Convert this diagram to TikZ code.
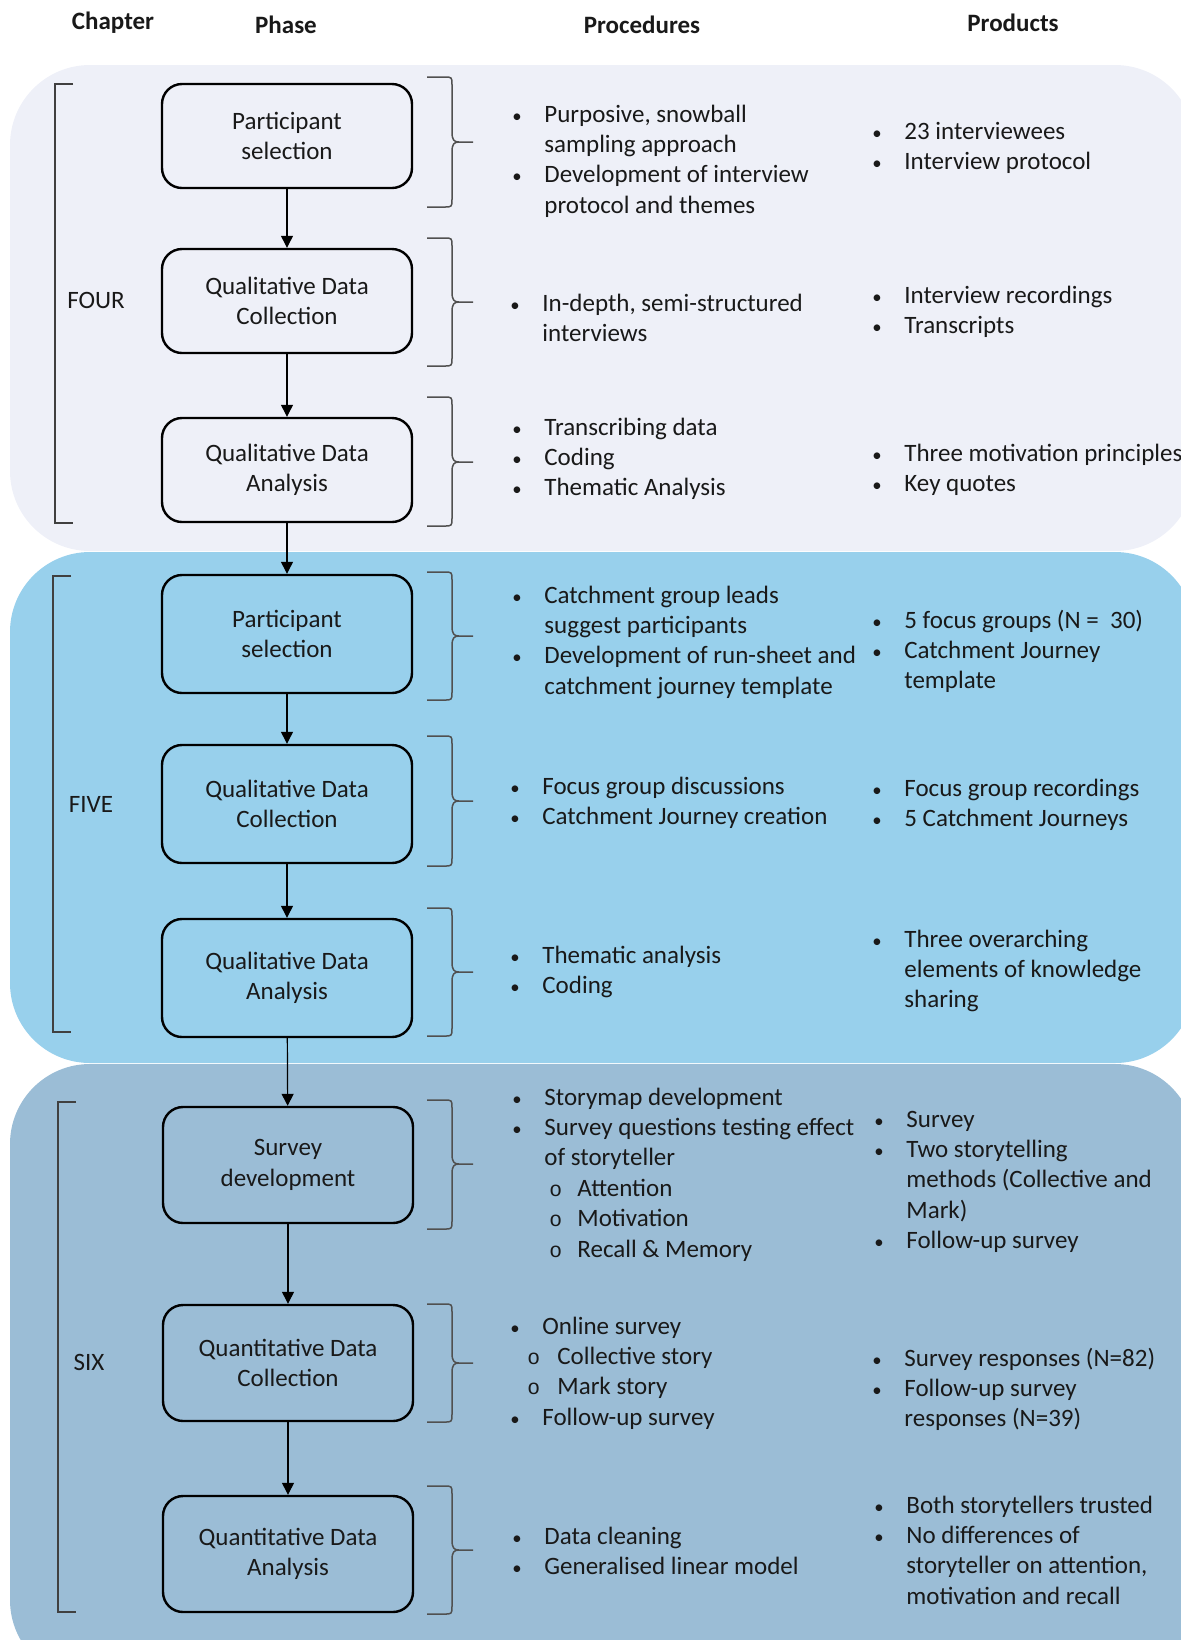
\documentclass[tikz,border=0pt]{standalone}
\usepackage{fontspec}
\setmainfont{Carlito}
\newfontfamily\monofam{Liberation Mono}
\usetikzlibrary{arrows.meta}

\definecolor{panelA}{RGB}{238,240,248}
\definecolor{panelB}{RGB}{152,208,236}
\definecolor{panelC}{RGB}{155,189,214}
\definecolor{bracegray}{RGB}{80,80,80}
\definecolor{inktext}{RGB}{25,25,25}

\newcommand\fs{\fontsize{12.5}{15.2}\selectfont}
% small round bullet and hollow sub-bullet
\newcommand\bu{\scalebox{0.75}{•}}
\newcommand\subo{\scalebox{0.85}{\monofam o}}
% bullet list: first column holds the bullet, second the text
\newcommand\blist[1]{\begin{tabular}[t]{@{}p{16pt}@{}l@{}}#1\end{tabular}}

% curly brace opening to the right, from y=#1 to y=#2, tip at y=#3
\newcommand\procbrace[3]{%
  \draw[bracestyle] (427,#1) -- (444,#1) .. controls (452,#1) .. (452,#1+8)
    -- (452,#3-10) .. controls (452,#3-2) and (454,#3) .. (459,#3) -- (473,#3)
    (459,#3) .. controls (454,#3) and (452,#3+2) .. (452,#3+10)
    -- (452,#2-8) .. controls (452,#2) .. (444,#2) -- (427,#2);}
% square bracket grouping the phases of a chapter
\newcommand\chapbracket[3]{%
  \draw[bracketstyle] (#1+18,#2) -- (#1,#2) -- (#1,#3) -- (#1+18,#3);}

\tikzset{
  phasebox/.style={draw=black, line width=1.2pt, rounded corners=10pt,
    minimum width=125pt, minimum height=#1, align=center, inner sep=0pt,
    font=\fs, text=inktext},
  flow/.style={-{Triangle[width=6pt,length=6pt]}, line width=0.6pt},
  listtext/.style={anchor=base west, inner sep=0pt, font=\fs, text=inktext},
  headtext/.style={inner sep=0pt, font=\fs\bfseries, text=inktext},
  chaptext/.style={inner sep=0pt, font=\fs, text=inktext},
  bracestyle/.style={draw=bracegray, line width=0.75pt, line join=round},
  bracketstyle/.style={draw=bracegray!80!black, line width=0.6pt},
}

\begin{document}
\begin{tikzpicture}[x=0.5pt,y=-0.5pt]
\clip (0,0) rectangle (1181,1640);

% chapter panels
\fill[panelA, rounded corners=40pt] (10,65) rectangle (1195,551);
\fill[panelB, rounded corners=40pt] (10,552) rectangle (1195,1063);
\fill[panelC, rounded corners=40pt] (10,1064) rectangle (1195,1680);

% column headings
\node[headtext] (hchap) at (113,23) {Chapter};
\node[headtext] (hphase) at (286,25) {Phase};
\node[headtext] (hproc) at (642,25) {Procedures};
\node[headtext] (hprod) at (1013,23) {Products};

% chapter brackets and labels
\chapbracket{55}{84}{523}
\chapbracket{53}{576}{1032}
\chapbracket{58}{1102}{1612}
\node[chaptext] (cfour) at (96,300) {FOUR};
\node[chaptext] (cfive) at (91,804) {FIVE};
\node[chaptext] (csix) at (89,1362) {SIX};

% phases
\node[phasebox=52pt] (b1) at (287,136) {Participant\\selection};
\node[phasebox=52pt] (b2) at (287,301) {Qualitative Data\\Collection};
\node[phasebox=52pt] (b3) at (287,470) {Qualitative Data\\Analysis};
\node[phasebox=59pt] (b4) at (287,634) {Participant\\selection};
\node[phasebox=59pt] (b5) at (287,804) {Qualitative Data\\Collection};
\node[phasebox=59pt] (b6) at (287,978) {Qualitative Data\\Analysis};
\node[phasebox=58pt] (b7) at (288,1165) {Survey\\development};
\node[phasebox=58pt] (b8) at (288,1363) {Quantitative Data\\Collection};
\node[phasebox=58pt] (b9) at (288,1554) {Quantitative Data\\Analysis};

\draw[flow] (b1) -- (b2);
\draw[flow] (b2) -- (b3);
\draw[flow] (b3) -- (b4);
\draw[flow] (b4) -- (b5);
\draw[flow] (b5) -- (b6);
\draw[flow] (b6) -- (b7);
\draw[flow] (b7) -- (b8);
\draw[flow] (b8) -- (b9);

% braces
\procbrace{77}{207}{142}
\procbrace{238}{366}{302}
\procbrace{397}{526}{462}
\procbrace{572}{700}{636}
\procbrace{736}{866}{801}
\procbrace{908}{1036}{972}
\procbrace{1100}{1229}{1164}
\procbrace{1304}{1422}{1363}
\procbrace{1486}{1614}{1550}

% procedures
\node[listtext] (p1) at (512,122) {\blist{%
  \bu & Purposive, snowball\\
    & sampling approach\\
  \bu & Development of interview\\
    & protocol and themes}};
\node[listtext] (p2) at (510,311) {\blist{%
  \bu & In-depth, semi-structured\\
    & interviews}};
\node[listtext] (p3) at (512,435) {\blist{%
  \bu & Transcribing data\\
  \bu & Coding\\
  \bu & Thematic Analysis}};
\node[listtext] (p4) at (512,603) {\blist{%
  \bu & Catchment group leads\\
    & suggest participants\\
  \bu & Development of run-sheet and\\
    & catchment journey template}};
\node[listtext] (p5) at (510,794) {\blist{%
  \bu & Focus group discussions\\
  \bu & Catchment Journey creation}};
\node[listtext] (p6) at (510,963) {\blist{%
  \bu & Thematic analysis\\
  \bu & Coding}};
\node[listtext] (p7) at (512,1105) {\blist{%
  \bu & Storymap development\\
  \bu & Survey questions testing effect\\
    & of storyteller\\
    & \hspace{2.5pt}\makebox[14pt][l]{\subo}Attention\\
    & \hspace{2.5pt}\makebox[14pt][l]{\subo}Motivation\\
    & \hspace{2.5pt}\makebox[14pt][l]{\subo}Recall \& Memory}};
\node[listtext] (p8) at (510,1334) {\blist{%
  \bu & Online survey\\
  \multicolumn{2}{@{}l@{}}{\hspace{8.5pt}\makebox[15pt][l]{\subo}Collective story}\\
  \multicolumn{2}{@{}l@{}}{\hspace{8.5pt}\makebox[15pt][l]{\subo}Mark story}\\
  \bu & Follow-up survey}};
\node[listtext] (p9) at (512,1544) {\blist{%
  \bu & Data cleaning\\
  \bu & Generalised linear model}};

% products
\node[listtext] (q1) at (872,139) {\blist{%
  \bu & 23 interviewees\\
  \bu & Interview protocol}};
\node[listtext] (q2) at (872,303) {\blist{%
  \bu & Interview recordings\\
  \bu & Transcripts}};
\node[listtext] (q3) at (872,461) {\blist{%
  \bu & Three motivation principles\\
  \bu & Key quotes}};
\node[listtext] (q4) at (872,628) {\blist{%
  \bu & 5 focus groups (N = \ 30)\\
  \bu & Catchment Journey\\
    & template}};
\node[listtext] (q5) at (872,796) {\blist{%
  \bu & Focus group recordings\\
  \bu & 5 Catchment Journeys}};
\node[listtext] (q6) at (872,947) {\blist{%
  \bu & Three overarching\\
    & elements of knowledge\\
    & sharing}};
\node[listtext] (q7) at (874,1127) {\blist{%
  \bu & Survey\\
  \bu & Two storytelling\\
    & methods (Collective and\\
    & Mark)\\
  \bu & Follow-up survey}};
\node[listtext] (q8) at (872,1366) {\blist{%
  \bu & Survey responses (N=82)\\
  \bu & Follow-up survey\\
    & responses (N=39)}};
\node[listtext] (q9) at (874,1513) {\blist{%
  \bu & Both storytellers trusted\\
  \bu & No differences of\\
    & storyteller on attention,\\
    & motivation and recall}};
\end{tikzpicture}
\end{document}
